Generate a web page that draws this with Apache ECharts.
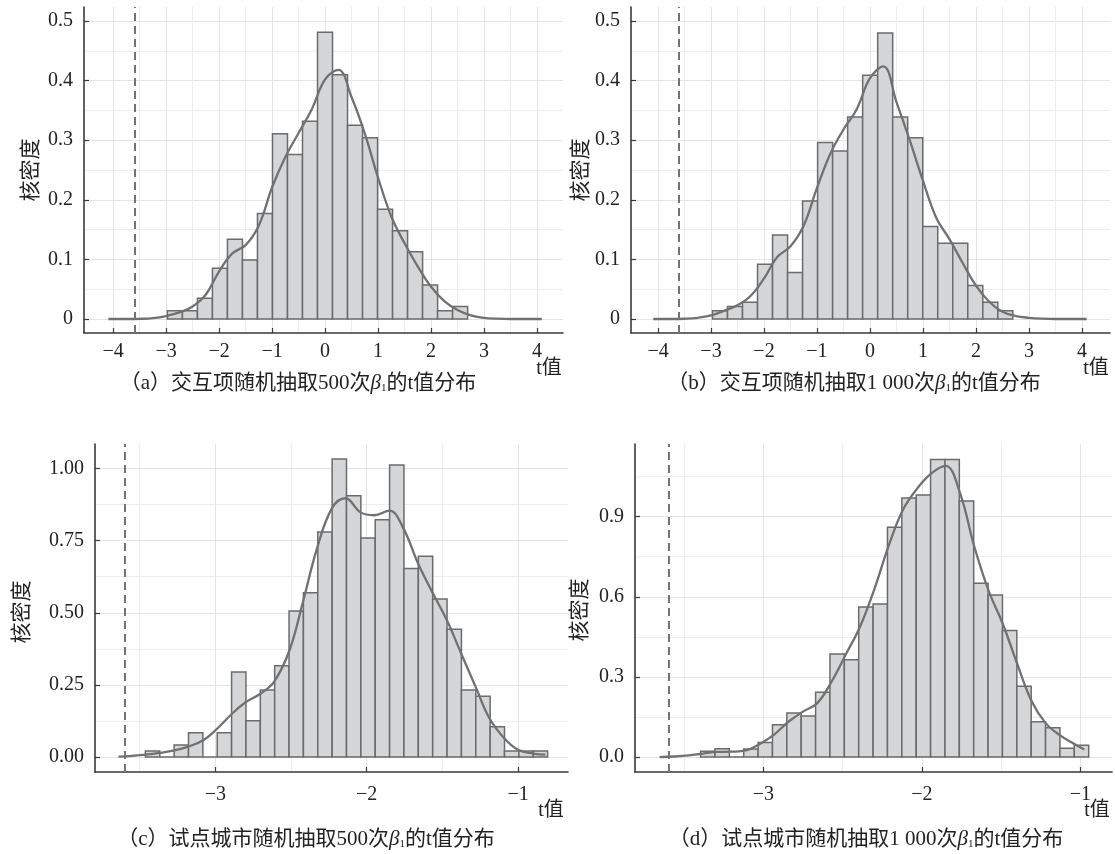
<!DOCTYPE html>
<html><head><meta charset="utf-8">
<script src="https://cdn.jsdelivr.net/npm/echarts@6/dist/echarts.min.js"></script>
<style>html,body{margin:0;padding:0;background:#fff}#chart{width:1115px;height:854px}</style>
</head><body><div id="chart"></div>
<script>
// ---------- Panel (a): 500 draws, interaction term ----------
const aBinStart = -2.976, aBinWidth = 0.2833;
const aDensity = [0.014,0.014,0.035,0.085,0.134,0.099,0.177,0.311,0.276,0.332,0.481,0.410,0.325,0.304,0.184,0.148,0.113,0.057,0.014,0.021];
const aKdeX = [-4.09,-3.75,-3.5,-3.25,-3.0,-2.75,-2.5,-2.25,-2.0,-1.75,-1.5,-1.25,-1.0,-0.75,-0.5,-0.25,0,0.25,0.5,0.75,1.0,1.25,1.5,1.75,2.0,2.25,2.5,2.75,3.0,3.25,3.5,3.75,4.09];
const aKdeY = [0,0,0.0003,0.0015,0.005,0.011,0.021,0.041,0.080,0.110,0.124,0.157,0.221,0.272,0.312,0.352,0.402,0.418,0.372,0.311,0.237,0.172,0.127,0.088,0.054,0.030,0.015,0.006,0.002,0.0005,0,0,0];
// ---------- Panel (b): 1000 draws, interaction term ----------
const bBinStart = -2.972, bBinWidth = 0.2834;
const bDensity = [0.014,0.021,0.028,0.092,0.141,0.078,0.198,0.296,0.282,0.339,0.409,0.480,0.339,0.304,0.155,0.127,0.127,0.056,0.028,0.014];
const bKdeX = [-4.09,-3.75,-3.5,-3.25,-3.0,-2.75,-2.5,-2.25,-2.0,-1.75,-1.5,-1.25,-1.0,-0.75,-0.5,-0.25,0,0.25,0.5,0.75,1.0,1.25,1.5,1.75,2.0,2.25,2.5,2.75,3.0,3.25,3.5,3.75,4.09];
const bKdeY = [0,0,0.0004,0.002,0.006,0.014,0.023,0.039,0.068,0.104,0.122,0.157,0.220,0.277,0.318,0.352,0.404,0.424,0.364,0.300,0.232,0.170,0.134,0.094,0.056,0.029,0.012,0.005,0.002,0.0005,0,0,0];
// ---------- Panel (c): 500 draws, pilot cities ----------
const cBinStart = -3.462, cBinWidth = 0.0949;
const cDensity = [0.021,0,0.042,0.084,0,0.084,0.295,0.126,0.232,0.316,0.506,0.569,0.780,1.033,0.906,0.759,0.822,1.012,0.653,0.696,0.548,0.443,0.232,0.211,0.105,0.021,0.021,0.021];
const cKdeX = [-3.64,-3.55,-3.46,-3.37,-3.27,-3.18,-3.08,-2.99,-2.89,-2.80,-2.70,-2.61,-2.51,-2.42,-2.33,-2.23,-2.14,-2.04,-1.95,-1.85,-1.76,-1.66,-1.57,-1.47,-1.38,-1.28,-1.19,-1.09,-1.00,-0.90,-0.82];
const cKdeY = [0.001,0.004,0.008,0.014,0.023,0.036,0.058,0.097,0.150,0.190,0.220,0.262,0.370,0.540,0.720,0.862,0.897,0.848,0.838,0.854,0.795,0.670,0.575,0.474,0.364,0.243,0.135,0.064,0.025,0.012,0.008];
// ---------- Panel (d): 1000 draws, pilot cities ----------
const dBinStart = -3.396, dBinWidth = 0.0907;
const dDensity = [0.022,0.031,0,0.030,0.054,0.121,0.165,0.154,0.243,0.386,0.364,0.562,0.573,0.860,0.970,0.981,1.114,1.114,0.959,0.651,0.607,0.474,0.265,0.132,0.110,0.033,0.044];
const dKdeX = [-3.655,-3.56,-3.47,-3.38,-3.29,-3.20,-3.11,-3.02,-2.93,-2.84,-2.75,-2.66,-2.57,-2.48,-2.39,-2.30,-2.21,-2.12,-2.03,-1.94,-1.85,-1.76,-1.67,-1.58,-1.49,-1.40,-1.31,-1.22,-1.13,-1.04,-0.975];
const dKdeY = [0,0.002,0.006,0.013,0.019,0.020,0.025,0.050,0.085,0.133,0.170,0.202,0.282,0.384,0.488,0.628,0.790,0.925,1.005,1.062,1.090,0.990,0.790,0.625,0.500,0.352,0.213,0.128,0.082,0.050,0.028];
// true t value (dashed reference line)
const trueT = [-3.6, -3.6, -3.6, -3.6];

// ---------- ticks ----------
const abXTicks = [-4,-3,-2,-1,0,1,2,3,4];
const abXMinor = [-3.5,-2.5,-1.5,-0.5,0.5,1.5,2.5,3.5];
const abYTicks = [0,0.1,0.2,0.3,0.4,0.5];
const abYTickLabels = ['0','0.1','0.2','0.3','0.4','0.5'];
const abYMinor = [0.05,0.15,0.25,0.35,0.45];
const cdXTicks = [-3,-2,-1];
const cdXMinor = [-3.5,-2.5,-1.5];
const cYTicks = [0,0.25,0.5,0.75,1.0];
const cYTickLabels = ['0.00','0.25','0.50','0.75','1.00'];
const cYMinor = [0.125,0.375,0.625,0.875];
const dYTicks = [0,0.3,0.6,0.9];
const dYTickLabels = ['0.0','0.3','0.6','0.9'];
const dYMinor = [0.15,0.45,0.75,1.05];

const captions = [
  '（a）交互项随机抽取500次{b|β}{s|1}的t值分布',
  '（b）交互项随机抽取1 000次{b|β}{s|1}的t值分布',
  '（c）试点城市随机抽取500次{b|β}{s|1}的t值分布',
  '（d）试点城市随机抽取1 000次{b|β}{s|1}的t值分布'
];
const yName = '核密度';
const xName = 't值';

const FONT = "'Liberation Serif', 'Noto Sans CJK SC', serif";
const TXT = '#222';
const AXIS = '#3a3a3a';

const panels = [
  {start:aBinStart, w:aBinWidth, dens:aDensity, kx:aKdeX, ky:aKdeY, xt:abXTicks, xm:abXMinor, yt:abYTicks, yl:abYTickLabels, ym:abYMinor,
   grid:{left:84, top:7, width:479, height:326}, xmin:-4.55, xmax:4.49, ymin:-0.0235, ymax:0.5235, xMargin:9,
   yName:[31,170], xName:[549,369], cap:[298,383]},
  {start:bBinStart, w:bBinWidth, dens:bDensity, kx:bKdeX, ky:bKdeY, xt:abXTicks, xm:abXMinor, yt:abYTicks, yl:abYTickLabels, ym:abYMinor,
   grid:{left:631, top:7, width:479, height:326}, xmin:-4.51, xmax:4.53, ymin:-0.0235, ymax:0.5235, xMargin:9,
   yName:[581,170], xName:[1096,369], cap:[854,383]},
  {start:cBinStart, w:cBinWidth, dens:cDensity, kx:cKdeX, ky:cKdeY, xt:cdXTicks, xm:cdXMinor, yt:cYTicks, yl:cYTickLabels, ym:cYMinor,
   grid:{left:95, top:444, width:473, height:328}, xmin:-3.795, xmax:-0.67, ymin:-0.052, ymax:1.085, xMargin:13,
   yName:[22,612], xName:[551,811], cap:[306,839]},
  {start:dBinStart, w:dBinWidth, dens:dDensity, kx:dKdeX, ky:dKdeY, xt:cdXTicks, xm:cdXMinor, yt:dYTicks, yl:dYTickLabels, ym:dYMinor,
   grid:{left:635, top:444, width:477, height:328}, xmin:-3.81, xmax:-0.80, ymin:-0.056, ymax:1.172, xMargin:13,
   yName:[580,610], xName:[1097,811], cap:[866,839]}
];

function fmtX(v){ return v < 0 ? '\u2212' + Math.abs(v) : String(v); }

const grids = [], xAxes = [], yAxes = [], series = [], graphics = [];
panels.forEach((p, i) => {
  grids.push(Object.assign({}, p.grid));
  xAxes.push({
    gridIndex:i, type:'value', min:p.xmin, max:p.xmax, position:'bottom',
    axisLine:{show:true, onZero:false, lineStyle:{color:AXIS, width:1.6}},
    axisTick:{show:true, inside:true, length:5, customValues:p.xt, lineStyle:{color:AXIS, width:1.2}},
    axisLabel:{customValues:p.xt, formatter:fmtX, fontFamily:FONT, fontSize:20, color:TXT, margin:p.xMargin},
    splitLine:{show:true, lineStyle:{color:'#e4e4e4', width:1}}
  });
  xAxes.push({
    gridIndex:i, type:'value', min:p.xmin, max:p.xmax, position:'top',
    axisLine:{show:false}, axisTick:{show:false, customValues:p.xm}, axisLabel:{show:false, customValues:p.xm},
    splitLine:{show:true, lineStyle:{color:'#ededed', width:1}}
  });
  const labelOf = v => { const k = p.yt.findIndex(t => Math.abs(t - v) < 1e-9); return k >= 0 ? p.yl[k] : String(v); };
  yAxes.push({
    gridIndex:i, type:'value', min:p.ymin, max:p.ymax, position:'left',
    axisLine:{show:true, onZero:false, lineStyle:{color:AXIS, width:1.6}},
    axisTick:{show:true, inside:true, length:5, customValues:p.yt, lineStyle:{color:AXIS, width:1.2}},
    axisLabel:{customValues:p.yt, formatter:labelOf, fontFamily:FONT, fontSize:20, color:TXT, margin:11},
    splitLine:{show:true, lineStyle:{color:'#e4e4e4', width:1}}
  });
  yAxes.push({
    gridIndex:i, type:'value', min:p.ymin, max:p.ymax, position:'right',
    axisLine:{show:false}, axisTick:{show:false, customValues:p.ym}, axisLabel:{show:false, customValues:p.ym},
    splitLine:{show:true, lineStyle:{color:'#ededed', width:1}}
  });
  const hist = p.dens.map((h, k) => [p.start + k * p.w, p.start + (k + 1) * p.w, h]);
  series.push({
    type:'custom', xAxisIndex:2*i, yAxisIndex:2*i, z:2, silent:true,
    encode:{x:[0,1], y:2},
    data:hist,
    renderItem:(params, api) => {
      const a = api.coord([api.value(0), api.value(2)]);
      const b = api.coord([api.value(1), 0]);
      return {type:'rect', shape:{x:a[0], y:a[1], width:b[0]-a[0], height:b[1]-a[1]},
              style:{fill:'#d5d6d8', stroke:'#6b6b6b', lineWidth:1.5}};
    }
  });
  series.push({
    type:'line', xAxisIndex:2*i, yAxisIndex:2*i, z:3, silent:true,
    data:p.kx.map((x, k) => [x, p.ky[k]]),
    smooth:0.4, showSymbol:false, symbol:'none',
    lineStyle:{color:'#717171', width:2.3},
    markLine:{silent:true, symbol:'none', label:{show:false},
      lineStyle:{color:'#737373', width:2, type:[8,5]},
      data:[{xAxis:trueT[i]}]}
  });
  graphics.push({type:'text', x:p.yName[0], y:p.yName[1], rotation:Math.PI/2,
    style:{text:yName, fontFamily:FONT, fontSize:21, fill:TXT, align:'center', verticalAlign:'middle'}});
  graphics.push({type:'text', x:p.xName[0], y:p.xName[1],
    style:{text:xName, fontFamily:FONT, fontSize:20, fill:TXT, align:'center', verticalAlign:'middle'}});
  graphics.push({type:'text', x:p.cap[0], y:p.cap[1],
    style:{text:captions[i], fontFamily:FONT, fontSize:21, fill:TXT, align:'center', verticalAlign:'middle',
      rich:{b:{fontFamily:FONT, fontStyle:'italic', fontSize:21, fill:TXT},
            s:{fontFamily:FONT, fontSize:11, fill:TXT, verticalAlign:'bottom', lineHeight:14}}}});
});

const chart = echarts.init(document.getElementById('chart'), null, {renderer:'canvas'});
chart.setOption({
  backgroundColor:'#ffffff',
  animation:false,
  grid:grids, xAxis:xAxes, yAxis:yAxes, series:series, graphic:graphics
});
</script></body></html>
